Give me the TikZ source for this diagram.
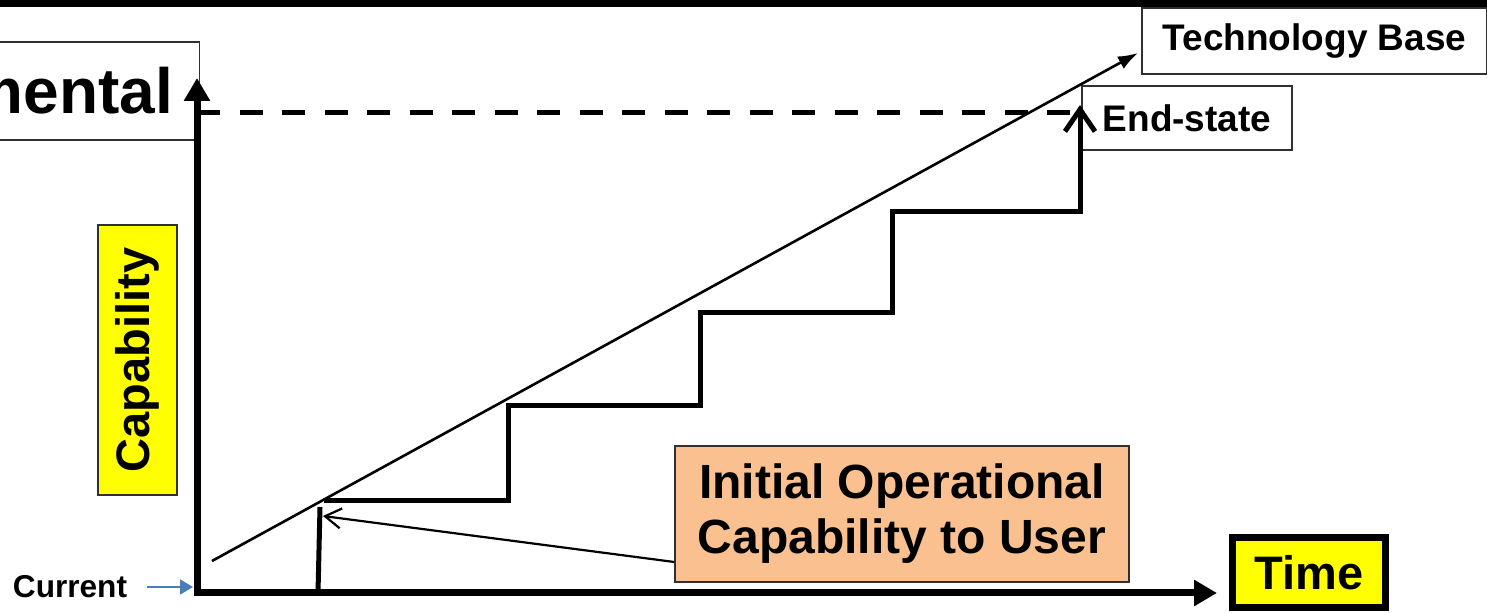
\documentclass[tikz,border=0pt]{standalone}
\usepackage{fontspec}
\setmainfont{Liberation Sans}
\usetikzlibrary{arrows.meta,positioning}
\definecolor{capyellow}{HTML}{FFFF00}
\definecolor{iocorange}{HTML}{FAC090}
\definecolor{curblue}{HTML}{4A7EBB}
\definecolor{boxgray}{HTML}{303030}

\begin{document}
\begin{tikzpicture}[
  x=0.5pt, y=-0.5pt,
  box/.style={draw=boxgray, line width=0.75pt, inner sep=0pt, align=center},
  label/.style={box, font=\bfseries\fontsize{18.5}{21}\selectfont},
  yellowbox/.style={box, fill=capyellow, font=\bfseries\fontsize{23.5}{27}\selectfont},
  iocbox/.style={box, fill=iocorange, font=\bfseries\fontsize{24}{27.5}\selectfont},
  axis/.style={line width=3.5pt, {Triangle[length=11.5pt,width=12.5pt]}-{Triangle[length=11.5pt,width=12.5pt]}},
  stair/.style={line width=2.5pt},
  dashline/.style={line width=2.5pt, dash pattern=on 11.5pt off 9.75pt},
  techline/.style={line width=1.3pt, -{Latex[length=10pt,width=7pt]}},
  pointer/.style={line width=1.1pt, -{Straight Barb[length=8pt,width=10pt]}},
  curarrow/.style={curblue, line width=1pt, -{Triangle[length=6.5pt,width=7.5pt]}}
]
\clip (0,0) rectangle (1487,613);

% title bar
\fill (0,0) rectangle (1487,7);

% labels
\node[box, anchor=east, minimum height=49pt, inner xsep=13pt,
  font=\bfseries\fontsize{32}{36}\selectfont] (incr) at (200,91) {mental};
\node[label, minimum width=172.5pt, minimum height=33pt] (techbase) at (1314.5,41) {Technology Base};
\node[label, minimum width=105pt, minimum height=32pt] (endstate) at (1187,118) {End-state};
\node[yellowbox, rotate=90, minimum width=135pt, minimum height=39.5pt] (capability) at (137.5,360) {Capability};
\node[iocbox, minimum width=227pt, minimum height=68pt] (ioc) at (902,514) {Initial Operational\\Capability to User};
\node[yellowbox, draw=black, line width=3.5pt, minimum width=76.5pt, minimum height=35pt] (time) at (1309,572.5) {Time};
\node[font=\bfseries\fontsize{15.8}{18}\selectfont, inner sep=0pt] (current) at (70,587) {Current};

% axes
\coordinate (origin) at (197,593);
\coordinate (ytip) at (197,78);
\coordinate (xtip) at (1217,593);
\draw[axis] (ytip) |- (xtip);

% end-state level
\coordinate (endtop) at (1075,113);
\coordinate (endtip) at (1080,105);
\draw[dashline] (origin |- endtop) -- (endtop);

% technology base
\coordinate (techstart) at (212,561);
\coordinate (techtip) at (1138,53);
\draw[techline] (techstart) -- (techtip);

% increments
\coordinate (firstfoot) at (318,593);
\coordinate (firsttop) at (320,507);
\coordinate (iocpoint) at (323,516);
\draw[stair] (firstfoot) -- (firsttop);
\draw[stair, -{Straight Barb[length=11pt,width=15pt]}]
  (324,501) -| (508,406) -| (700,313) -| (892,212) -| (endtip);

\draw[pointer] ([yshift=-24pt]ioc.west) -- (iocpoint);
\draw[curarrow] ([xshift=10pt]current.east) -- ([xshift=-2pt]current.east -| origin);

\end{tikzpicture}
\end{document}
